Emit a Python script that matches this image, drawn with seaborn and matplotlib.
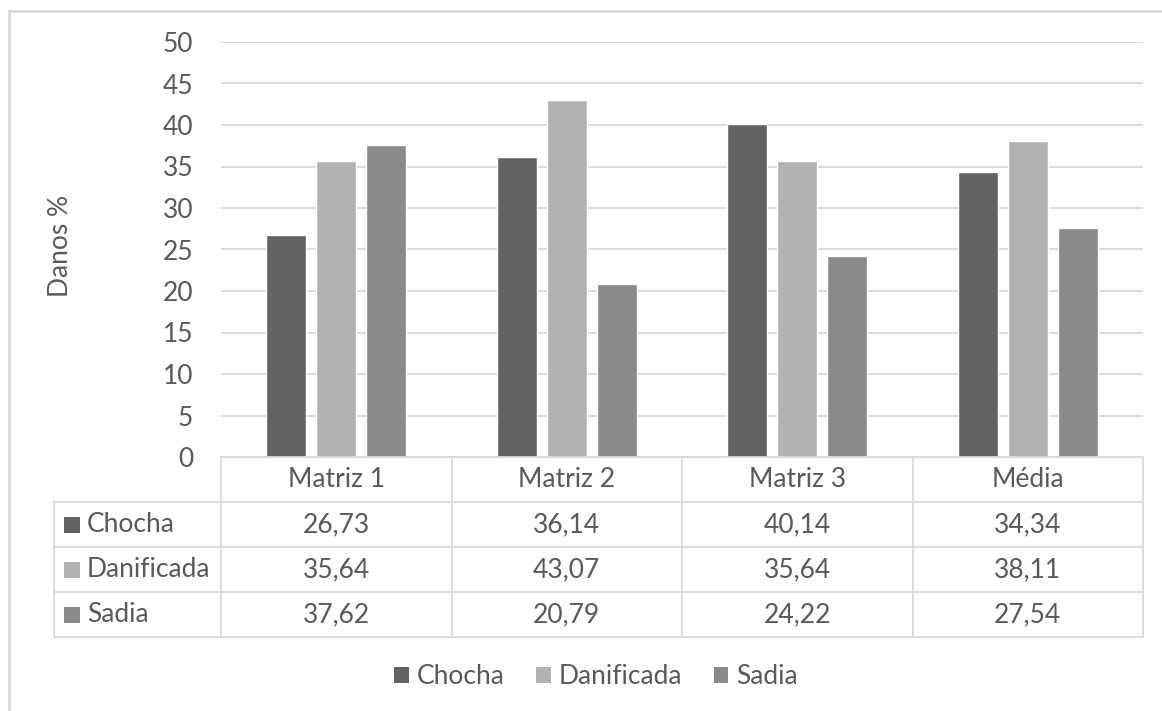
import numpy as np
import matplotlib
matplotlib.use("Agg")
import matplotlib.pyplot as plt
import seaborn as sns
import pandas as pd
from matplotlib.patches import Rectangle, Patch
from matplotlib.lines import Line2D

categories = ["Matriz 1", "Matriz 2", "Matriz 3", "Média"]
series = ["Chocha", "Danificada", "Sadia"]
chocha = [26.73, 36.14, 40.14, 34.34]
danificada = [35.64, 43.07, 35.64, 38.11]
sadia = [37.62, 20.79, 24.22, 27.54]
yticks = [0, 5, 10, 15, 20, 25, 30, 35, 40, 45, 50]

colors = ["#636363", "#b2b2b2", "#8a8a8a"]
txt = "#595959"
line_c = "#d9d9d9"

df = pd.DataFrame({
    "categoria": categories * 3,
    "serie": np.repeat(series, len(categories)),
    "valor": chocha + danificada + sadia,
})

sns.set_style("white")
plt.rcParams["font.family"] = ["Lato", "DejaVu Sans"]
FS = 19

W, H = 1162, 711
fig = plt.figure(figsize=(W / 100, H / 100), dpi=100)

def fx(px):
    return px / W

def fy(py):
    return 1 - py / H

L, R, T, B = 221, 1143, 42, 457
ax = fig.add_axes([fx(L), fy(B), fx(R) - fx(L), fy(T) - fy(B)])
sns.barplot(data=df, x="categoria", y="valor", hue="serie", palette=colors,
            width=0.651, gap=0.2, ax=ax, legend=False, saturation=1)
ax.set_ylim(0, 50)
ax.set_xlim(-0.5, len(categories) - 0.5)
ax.set_yticks(yticks)
ax.set_yticklabels([str(t) for t in yticks], fontsize=FS, color=txt)
ax.set_xticks([])
ax.set_xlabel("")
ax.set_ylabel("")
ax.tick_params(axis="y", length=0, pad=20)
ax.yaxis.grid(True, color=line_c, linewidth=1.3)
ax.set_axisbelow(True)
for s in ax.spines.values():
    s.set_visible(False)

fig.text(fx(60), fy(246), "Danos %", rotation=90, ha="center", va="center",
         fontsize=FS, color=txt)

# data table under the axes
def hline(y, x0, x1):
    fig.add_artist(Line2D([fx(x0), fx(x1)], [fy(y), fy(y)], color=line_c,
                          linewidth=1.3, transform=fig.transFigure))

def vline(x, y0, y1):
    fig.add_artist(Line2D([fx(x), fx(x)], [fy(y0), fy(y1)], color=line_c,
                          linewidth=1.3, transform=fig.transFigure))

row_h = 45
col_w = (R - L) / len(categories)
lab_x = 54
hline(B, L, R)
for i in range(1, 4 + 1):
    hline(B + i * row_h, lab_x, R)
vline(lab_x, B + row_h, B + 4 * row_h)
for j in range(len(categories) + 1):
    vline(L + j * col_w, B, B + 4 * row_h)

for j, cat in enumerate(categories):
    fig.text(fx(L + (j + 0.5) * col_w), fy(B + row_h / 2), cat, ha="center",
             va="center", fontsize=FS, color=txt)

table_vals = [chocha, danificada, sadia]
for i, (name, vals) in enumerate(zip(series, table_vals)):
    yc = B + (i + 1.5) * row_h
    fig.add_artist(Rectangle((fx(64), fy(yc + 8)), fx(16), 16 / H,
                             facecolor=colors[i], edgecolor="none",
                             transform=fig.transFigure))
    fig.text(fx(87), fy(yc), name, ha="left", va="center", fontsize=FS, color=txt)
    for j, v in enumerate(vals):
        fig.text(fx(L + (j + 0.5) * col_w), fy(yc), f"{v:.2f}".replace(".", ","),
                 ha="center", va="center", fontsize=FS, color=txt)

handles = [Patch(facecolor=c, edgecolor="none", label=s) for s, c in zip(series, colors)]
fig.legend(handles=handles, loc="center", bbox_to_anchor=(fx(596), fy(677)), ncol=3,
           frameon=False, fontsize=FS, labelcolor=txt, handlelength=0.55,
           handleheight=0.55, handletextpad=0.3, columnspacing=1.2)

# outer chart border
fig.add_artist(Rectangle((fx(9), fy(H + 20)), fx(W + 20), (H + 20 - 11) / H,
                         facecolor="none", edgecolor=line_c, linewidth=2,
                         transform=fig.transFigure))

fig.savefig("out.png", dpi=100)
